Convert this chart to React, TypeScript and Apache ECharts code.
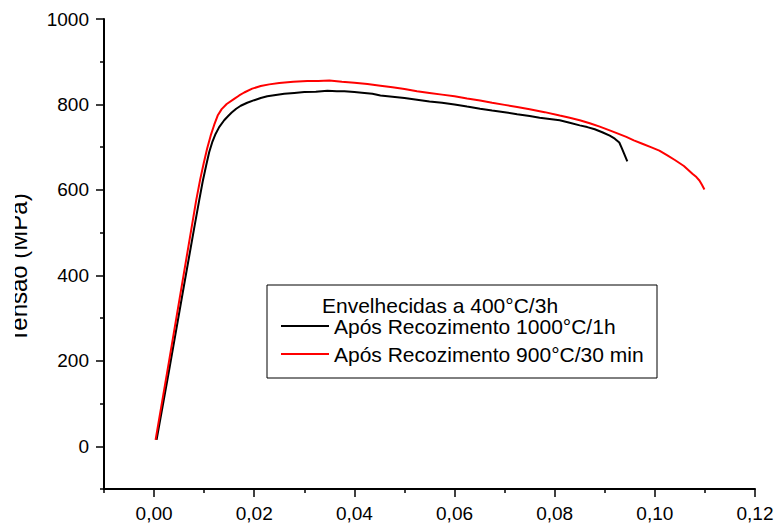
import React, { useEffect, useRef } from "react";
import * as echarts from "echarts";

const xMajorTicks = [0, 0.02, 0.04, 0.06, 0.08, 0.1, 0.12];
const xMinorTicks = [-0.01, 0.01, 0.03, 0.05, 0.07, 0.09, 0.11];
const yMajorTicks = [0, 200, 400, 600, 800, 1000];
const yMinorTicks = [-100, 100, 300, 500, 700, 900];

const seriesNames = ["Após Recozimento 1000°C/1h", "Após Recozimento 900°C/30 min"];
const legendTitle = "Envelhecidas a 400°C/3h";
const yAxisTitle = "Tensão (MPa)";

const black1000: [number, number][] = [
  [0.0005, 15], [0.003, 178], [0.006, 378], [0.008, 510], [0.009, 575],
  [0.0097, 619], [0.0104, 657], [0.011, 688], [0.0116, 711], [0.0122, 729],
  [0.013, 747], [0.014, 763], [0.0148, 773], [0.0155, 781], [0.0164, 790],
  [0.0173, 797], [0.0186, 804], [0.02, 810], [0.0213, 815], [0.0226, 819],
  [0.0243, 822], [0.026, 825], [0.028, 827], [0.03, 829], [0.0323, 830],
  [0.0346, 832], [0.0365, 831], [0.038, 831], [0.04, 829], [0.042, 827],
  [0.0436, 825], [0.0452, 821], [0.0476, 818], [0.05, 815], [0.0525, 811],
  [0.055, 807], [0.0575, 804], [0.06, 800], [0.0625, 795], [0.0651, 790],
  [0.0675, 786], [0.07, 782], [0.0725, 777], [0.075, 773], [0.077, 769],
  [0.079, 766], [0.081, 763], [0.083, 757], [0.085, 751], [0.0865, 747],
  [0.088, 742], [0.0895, 735], [0.091, 727], [0.092, 720], [0.0929, 711],
  [0.0934, 698], [0.0939, 684], [0.0945, 667]
];

const red900: [number, number][] = [
  [0.0003, 15], [0.003, 200], [0.006, 408], [0.0084, 575], [0.0092, 624],
  [0.0099, 662], [0.0106, 697], [0.0113, 727], [0.012, 752], [0.0127, 774],
  [0.0135, 789], [0.0145, 801], [0.016, 813], [0.017, 821],
  [0.018, 828], [0.0196, 837], [0.0213, 843], [0.023, 847], [0.025, 850],
  [0.0278, 853], [0.0306, 855], [0.0328, 855], [0.035, 856], [0.0375, 853],
  [0.04, 851], [0.0426, 848], [0.0452, 844], [0.0476, 840], [0.05, 836],
  [0.0525, 831], [0.055, 827], [0.0575, 823], [0.06, 819], [0.0625, 814],
  [0.0651, 809], [0.0675, 804], [0.07, 799], [0.0725, 794], [0.075, 789],
  [0.078, 782], [0.081, 774], [0.083, 769], [0.085, 763], [0.087, 756],
  [0.089, 748], [0.0915, 737], [0.0943, 724], [0.0958, 716], [0.0975, 708],
  [0.0992, 700], [0.1009, 692], [0.1025, 681], [0.104, 670], [0.1058, 656],
  [0.1075, 638], [0.1083, 630], [0.1089, 622], [0.1094, 612], [0.1099, 601]
];

const FONT = "'Liberation Sans', Arial, sans-serif";

export default function App() {
  const ref = useRef<HTMLDivElement>(null);
  useEffect(() => {
    document.body.style.margin = "0";
    const chart = echarts.init(ref.current!, null, { renderer: "svg" });
    const fmtX = (v: number) => v.toFixed(2).replace(".", ",");
    const baseX = {
      type: "value" as const,
      min: -0.01,
      max: 0.12,
      interval: 0.01,
      splitLine: { show: false },
    };
    const baseY = {
      type: "value" as const,
      min: -100,
      max: 1000,
      interval: 100,
      splitLine: { show: false },
    };
    chart.setOption({
      animation: false,
      backgroundColor: "#ffffff",
      grid: { left: 104, right: 23, top: 19, bottom: 39, containLabel: false },
      xAxis: [
        {
          ...baseX,
          position: "bottom",
          axisLine: { show: true, onZero: false, lineStyle: { color: "#000", width: 2 } },
          axisTick: { show: true, length: 8, customValues: xMajorTicks, lineStyle: { color: "#000", width: 1.5 } },
          axisLabel: {
            customValues: xMajorTicks,
            formatter: fmtX,
            color: "#000",
            fontSize: 19,
            fontFamily: FONT,
            margin: 15,
          },
        },
        {
          ...baseX,
          position: "bottom",
          axisLine: { show: false, onZero: false },
          axisTick: { show: true, length: 4, customValues: xMinorTicks, lineStyle: { color: "#000", width: 1.5 } },
          axisLabel: { show: false },
        },
      ],
      yAxis: [
        {
          ...baseY,
          position: "left",
          axisLine: { show: true, onZero: false, lineStyle: { color: "#000", width: 2 } },
          axisTick: { show: true, length: 8, customValues: yMajorTicks, lineStyle: { color: "#000", width: 1.5 } },
          axisLabel: {
            customValues: yMajorTicks,
            formatter: (v: number) => String(v),
            color: "#000",
            fontSize: 19,
            fontFamily: FONT,
            margin: 15,
          },
        },
        {
          ...baseY,
          position: "left",
          axisLine: { show: false, onZero: false },
          axisTick: { show: true, length: 4, customValues: yMinorTicks, lineStyle: { color: "#000", width: 1.5 } },
          axisLabel: { show: false },
        },
      ],
      legend: {
        orient: "vertical",
        left: 281,
        top: 314,
        icon: "rect",
        itemWidth: 48,
        itemHeight: 2,
        itemGap: 4,
        padding: 0,
        data: seriesNames,
        textStyle: { color: "#000", fontSize: 21, fontFamily: FONT, lineHeight: 24 },
      },
      graphic: [
        {
          type: "rect",
          shape: { x: 267, y: 285, width: 390, height: 93 },
          style: { fill: "none", stroke: "#000", lineWidth: 1 },
          z: 10,
        },
        {
          type: "text",
          x: 322,
          y: 305,
          style: {
            text: legendTitle,
            fill: "#000",
            font: `21px ${FONT}`,
            textAlign: "left",
            textVerticalAlign: "middle",
          },
          z: 10,
        },
        {
          type: "text",
          x: 18.7,
          y: 268,
          rotation: Math.PI / 2,
          style: {
            text: yAxisTitle,
            fill: "#000",
            font: `24px ${FONT}`,
            textAlign: "center",
            textVerticalAlign: "middle",
          },
          z: 10,
        },
        {
          type: "rect",
          shape: { x: 0, y: 170, width: 15, height: 200 },
          style: { fill: "#ffffff" },
          z: 11,
        },
      ],
      series: [
        {
          name: seriesNames[0],
          type: "line",
          data: black1000,
          symbol: "none",
          showSymbol: false,
          color: "#000000",
          lineStyle: { color: "#000000", width: 2 },
          xAxisIndex: 0,
          yAxisIndex: 0,
        },
        {
          name: seriesNames[1],
          type: "line",
          data: red900,
          symbol: "none",
          showSymbol: false,
          color: "#ff0000",
          lineStyle: { color: "#ff0000", width: 2 },
          xAxisIndex: 0,
          yAxisIndex: 0,
        },
      ],
    });
    return () => chart.dispose();
  }, []);
  return <div ref={ref} style={{ width: 778, height: 528 }} />;
}
